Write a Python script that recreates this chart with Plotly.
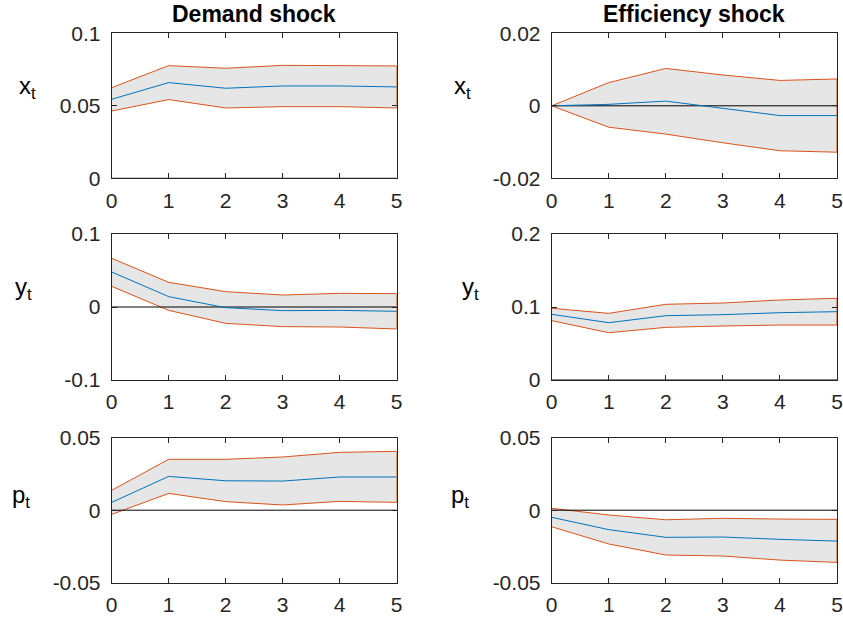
import plotly.graph_objects as go

horizon = [0, 1, 2, 3, 4, 5]

# Demand shock
x_dem_up = [0.0625, 0.0777, 0.0759, 0.0779, 0.0777, 0.0775]
x_dem_mid = [0.0545, 0.0660, 0.0621, 0.0637, 0.0637, 0.0630]
x_dem_lo = [0.0464, 0.0543, 0.0485, 0.0494, 0.0494, 0.0485]

y_dem_up = [0.0667, 0.0338, 0.0210, 0.0164, 0.0187, 0.0183]
y_dem_mid = [0.0480, 0.0142, -0.0009, -0.0050, -0.0046, -0.0059]
y_dem_lo = [0.0283, -0.0046, -0.0224, -0.0269, -0.0274, -0.0301]

p_dem_up = [0.0137, 0.0351, 0.0351, 0.0367, 0.0399, 0.0406]
p_dem_mid = [0.0054, 0.0233, 0.0203, 0.0201, 0.0229, 0.0229]
p_dem_lo = [-0.0029, 0.0116, 0.0059, 0.0036, 0.0061, 0.0054]

# Efficiency shock
x_eff_up = [0.0, 0.0064, 0.0103, 0.0085, 0.0070, 0.0074]
x_eff_mid = [0.0, 0.0004, 0.0013, -0.0008, -0.0027, -0.0027]
x_eff_lo = [0.0, -0.0059, -0.0078, -0.0102, -0.0124, -0.0128]

y_eff_up = [0.0982, 0.0913, 0.1037, 0.1055, 0.1096, 0.1119]
y_eff_mid = [0.0900, 0.0785, 0.0881, 0.0895, 0.0922, 0.0936]
y_eff_lo = [0.0813, 0.0648, 0.0721, 0.0740, 0.0753, 0.0753]

p_eff_up = [0.0013, -0.0033, -0.0066, -0.0056, -0.0061, -0.0063]
p_eff_mid = [-0.0049, -0.0134, -0.0187, -0.0185, -0.0201, -0.0213]
p_eff_lo = [-0.0114, -0.0233, -0.0309, -0.0316, -0.0344, -0.0360]

col_titles = ["Demand shock", "Efficiency shock"]
row_labels = ["x<sub>t</sub>", "y<sub>t</sub>", "p<sub>t</sub>"]

x_ticks = [0, 1, 2, 3, 4, 5]
x_ticktext = ["0", "1", "2", "3", "4", "5"]

ytick_vals = {
    (0, 0): [0, 0.05, 0.1], (0, 1): [-0.02, 0, 0.02],
    (1, 0): [-0.1, 0, 0.1], (1, 1): [0, 0.1, 0.2],
    (2, 0): [-0.05, 0, 0.05], (2, 1): [-0.05, 0, 0.05],
}
ytick_text = {
    (0, 0): ["0", "0.05", "0.1"], (0, 1): ["-0.02", "0", "0.02"],
    (1, 0): ["-0.1", "0", "0.1"], (1, 1): ["0", "0.1", "0.2"],
    (2, 0): ["-0.05", "0", "0.05"], (2, 1): ["-0.05", "0", "0.05"],
}

panels = {
    (0, 0): (x_dem_up, x_dem_mid, x_dem_lo),
    (0, 1): (x_eff_up, x_eff_mid, x_eff_lo),
    (1, 0): (y_dem_up, y_dem_mid, y_dem_lo),
    (1, 1): (y_eff_up, y_eff_mid, y_eff_lo),
    (2, 0): (p_dem_up, p_dem_mid, p_dem_lo),
    (2, 1): (p_eff_up, p_eff_mid, p_eff_lo),
}

W, H = 843, 618
col_px = [(111.7, 396.7), (551.7, 837.0)]
row_px = [(33.3, 178.3), (234.0, 380.0), (437.7, 582.7)]
label_pos = {
    (0, 0): (27, 88), (0, 1): (462, 88),
    (1, 0): (23.5, 289), (1, 1): (470, 289),
    (2, 0): (21, 496), (2, 1): (460.5, 496),
}

BLUE = "#0072BD"
ORANGE = "#D95319"
FILL = "#E6E6E6"
AX = "#262626"
FONT = "Liberation Sans, Arial, Helvetica, sans-serif"

fig = go.Figure()
layout = {}
annotations = []
for r in range(3):
    for c in range(2):
        idx = r * 2 + c + 1
        xa = "x" if idx == 1 else f"x{idx}"
        ya = "y" if idx == 1 else f"y{idx}"
        up, mid, lo = panels[(r, c)]
        fig.add_trace(go.Scatter(
            x=horizon + horizon[::-1], y=up + lo[::-1], fill="toself",
            fillcolor=FILL, line=dict(color=ORANGE, width=1), mode="lines",
            xaxis=xa, yaxis=ya, hoverinfo="skip"))
        fig.add_trace(go.Scatter(
            x=[horizon[0], horizon[-1]], y=[0, 0], mode="lines",
            line=dict(color="black", width=1), xaxis=xa, yaxis=ya))
        fig.add_trace(go.Scatter(
            x=horizon, y=mid, mode="lines", line=dict(color=BLUE, width=1),
            xaxis=xa, yaxis=ya))
        x0, x1 = col_px[c]
        y0, y1 = row_px[r]
        yv = ytick_vals[(r, c)]
        common = dict(showline=True, linecolor=AX, linewidth=1, mirror="allticks",
                      ticks="inside", ticklen=5, tickcolor=AX, tickwidth=1,
                      showgrid=False, zeroline=False, automargin=False,
                      tickfont=dict(family=FONT, size=21, color=AX))
        layout["xaxis" if idx == 1 else f"xaxis{idx}"] = dict(
            domain=[x0 / W, x1 / W], range=[0, 5], anchor=ya,
            tickvals=x_ticks, ticktext=x_ticktext, ticklabelstandoff=3, **common)
        layout["yaxis" if idx == 1 else f"yaxis{idx}"] = dict(
            domain=[1 - y1 / H, 1 - y0 / H], range=[yv[0], yv[-1]], anchor=xa,
            tickvals=yv, ticktext=ytick_text[(r, c)], ticklabelstandoff=6, **common)
        lx, ly = label_pos[(r, c)]
        annotations.append(dict(
            text=row_labels[r], x=lx / W, y=1 - ly / H, xref="paper", yref="paper",
            xanchor="center", yanchor="middle", showarrow=False,
            font=dict(family=FONT, size=24, color="black")))

for c in range(2):
    x0, x1 = col_px[c]
    annotations.append(dict(
        text="<b>" + col_titles[c] + "</b>", x=(x0 + x1) / 2 / W, y=1 - 14 / H,
        xref="paper", yref="paper", xanchor="center", yanchor="middle",
        showarrow=False, font=dict(family=FONT, size=23, color="black")))

fig.update_layout(
    width=W, height=H, margin=dict(l=0, r=0, t=0, b=0, autoexpand=False),
    paper_bgcolor="white", plot_bgcolor="white", showlegend=False,
    annotations=annotations, **layout)

fig.write_html("out.html")
